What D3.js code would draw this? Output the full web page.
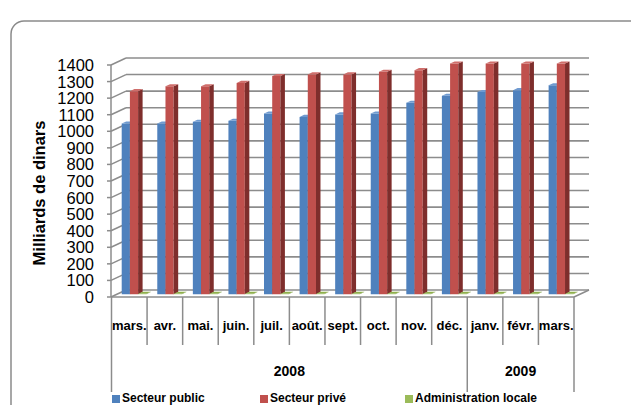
<!DOCTYPE html>
<html><head><meta charset="utf-8">
<script src="https://cdn.jsdelivr.net/npm/d3@7/dist/d3.min.js"></script>
<style>body{margin:0;background:#fff;}svg{display:block;}</style>
</head><body>
<svg id="c" width="631" height="405"></svg>
<script>
const months = ["mars.","avr.","mai.","juin.","juil.","août.","sept.","oct.","nov.","déc.","janv.","févr.","mars."];
const years = [{label:"2008", start:0, end:10},{label:"2009", start:10, end:13}];
const seriesNames = ["Secteur public","Secteur privé","Administration locale"];
const secteurPublic = [1030,1030,1040,1046,1090,1070,1085,1090,1155,1197,1220,1231,1261];
const secteurPrive  = [1225,1255,1255,1275,1316,1326,1326,1342,1352,1392,1392,1392,1392];
const adminLocale   = [2,2,2,2,2,2,2,2,2,2,2,2,2];
const yTicks = [0,100,200,300,400,500,600,700,800,900,1000,1100,1200,1300,1400];

const colors = [
  {front:"#4F81BD", side:"#385D8A", top:"#6F9AD0"},
  {front:"#C0504D", side:"#7E2E2C", top:"#CF6E6B"},
  {front:"#9BBB59", side:"#6F8A3C", top:"#8FB04C"}
];
const seriesData = [secteurPublic, secteurPrive, adminLocale];

const svg = d3.select("#c");
const font = "'Liberation Sans', Arial, sans-serif";
const DX = 15, DY = -7;
const X0 = 111.5, X1 = 574;
const y = d3.scaleLinear().domain([0,1400]).range([297,65]);
const x0 = d3.scaleBand().domain(d3.range(months.length)).range([X0, X1]).padding(0);
const x1 = d3.scaleBand().domain(d3.range(3)).range([4.2, 4.2+24.6]).padding(0);
const P = (xp, v, f) => [xp + f*DX, y(v) + f*DY];
const gridCol = "#8c8c8c";

// frame
svg.append("rect").attr("x",11).attr("y",21).attr("width",700).attr("height",500)
  .attr("rx",13).attr("fill","none").attr("stroke","#8a8a8a").attr("stroke-width",1.5);

// gridlines
const g = svg.append("g");
yTicks.forEach(v => {
  const a = P(X0-0.5, v, 0), b = P(X0-0.5, v, 1);
  g.append("line").attr("x1",a[0]).attr("y1",a[1]).attr("x2",b[0]).attr("y2",b[1])
    .attr("stroke",gridCol).attr("stroke-width",1.5);
  g.append("line").attr("x1",b[0]).attr("y1",b[1]).attr("x2",X1+DX).attr("y2",b[1])
    .attr("stroke",gridCol).attr("stroke-width",1.6);
  g.append("line").attr("x1",a[0]-4).attr("y1",a[1]).attr("x2",a[0]).attr("y2",a[1])
    .attr("stroke",gridCol).attr("stroke-width",1.5);
  g.append("text").attr("x",94).attr("y",a[1]).attr("dy","0.36em").attr("text-anchor","end")
    .attr("font-family",font).attr("font-size",16.5).attr("fill","#000").text(v);
});
// front axis line
g.append("line").attr("x1",X0-0.5).attr("y1",y(0)).attr("x2",X0-0.5).attr("y2",y(1400))
  .attr("stroke",gridCol).attr("stroke-width",1.5);
// floor front edge and right edge
g.append("line").attr("x1",X0-0.5).attr("y1",y(0)).attr("x2",X1).attr("y2",y(0))
  .attr("stroke",gridCol).attr("stroke-width",1.5);
g.append("line").attr("x1",X1).attr("y1",y(0)).attr("x2",X1+DX).attr("y2",y(0)+DY)
  .attr("stroke",gridCol).attr("stroke-width",1.5);

// bars
const f1 = 0.4, f2 = 0.7;
const bars = svg.append("g");
const poly = pts => pts.map(p => p.join(",")).join(" ");
months.forEach((m, i) => {
  seriesData.forEach((arr, s) => {
    const v = arr[i];
    const xl = x0(i) + x1(s), xr = xl + x1.bandwidth();
    bars.append("polygon").attr("points", poly([P(xl,0,f1),P(xr,0,f1),P(xr,v,f1),P(xl,v,f1)]))
      .attr("fill", colors[s].front);
    bars.append("polygon").attr("points", poly([P(xr,0,f1),P(xr,0,f2),P(xr,v,f2),P(xr,v,f1)]))
      .attr("fill", colors[s].side);
    bars.append("polygon").attr("points", poly([P(xl,v,f1),P(xr,v,f1),P(xr,v,f2),P(xl,v,f2)]))
      .attr("fill", colors[s].top);
  });
});

// category axis
const ax = svg.append("g");
const longIdx = [0];
years.forEach(yr => longIdx.push(yr.end));
for (let i = 0; i <= months.length; i++) {
  const xx = X0 + i * x0.step();
  const isLong = longIdx.includes(i);
  ax.append("line").attr("x1",xx).attr("x2",xx).attr("y1",y(0)).attr("y2", isLong ? 392 : 345)
    .attr("stroke",gridCol).attr("stroke-width",1.5);
}
months.forEach((m,i) => {
  ax.append("text").attr("x", x0(i) + x0.bandwidth()/2).attr("y",330).attr("text-anchor","middle")
    .attr("font-family",font).attr("font-weight","bold").attr("font-size",13).text(m);
});
years.forEach(yr => {
  const cx = (X0 + yr.start*x0.step() + X0 + yr.end*x0.step())/2;
  ax.append("text").attr("x", cx).attr("y",376).attr("text-anchor","middle")
    .attr("font-family",font).attr("font-weight","bold").attr("font-size",14).text(yr.label);
});

// y title
svg.append("text").attr("transform","translate(45,193) rotate(-90)").attr("text-anchor","middle")
  .attr("font-family",font).attr("font-weight","bold").attr("font-size",16.5).text("Milliards de dinars");

// legend
const legX = [112, 260, 405];
seriesNames.forEach((n,s) => {
  svg.append("rect").attr("x",legX[s]).attr("y",395).attr("width",8).attr("height",8).attr("fill",colors[s].front);
  svg.append("text").attr("x",legX[s]+10).attr("y",402).attr("font-family",font).attr("font-weight","bold")
    .attr("font-size",12).text(n);
});
</script>
</body></html>
